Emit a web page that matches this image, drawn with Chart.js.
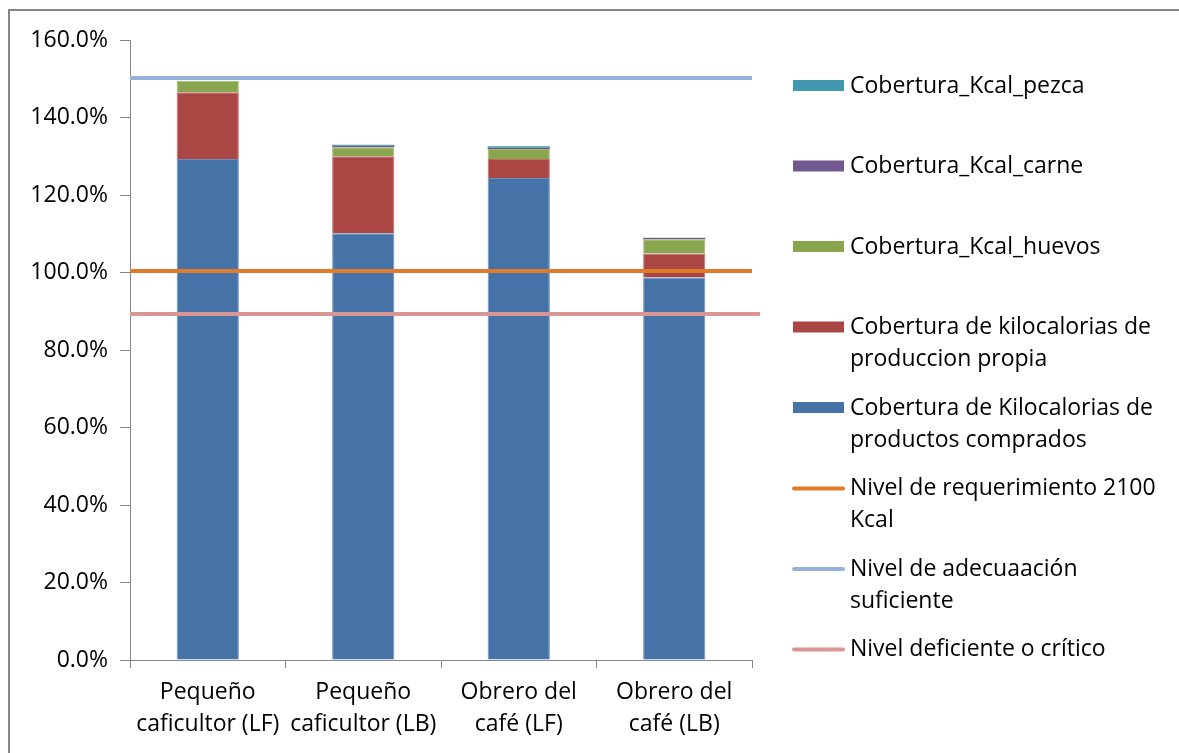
<!DOCTYPE html>
<html>
<head>
<meta charset="utf-8">
<script src="https://cdn.jsdelivr.net/npm/chart.js@4.4.0/dist/chart.umd.min.js"></script>
<style>
  html, body { margin: 0; padding: 0; background: #fff; overflow: hidden; }
  #wrap { position: relative; width: 1179px; height: 753px; }
  #frame { position: absolute; left: 8px; top: 9px; width: 1200px; height: 800px;
           border-left: 2px solid #868686; border-top: 2px solid #868686; box-sizing: border-box; }
  canvas { position: absolute; left: 0; top: 0; }
</style>
</head>
<body>
<div id="wrap">
  <div id="frame"></div>
  <canvas id="coberturaChart" width="1179" height="753"></canvas>
</div>
<script>
const categories = [
    ['Pequeño', 'caficultor (LF)'],
    ['Pequeño', 'caficultor (LB)'],
    ['Obrero del', 'café (LF)'],
    ['Obrero del', 'café (LB)']
];

// stacked bar series, % coverage
const comprados = [129.3, 110.1, 124.4, 98.7];
const propia    = [17.2, 19.9, 4.9, 6.2];
const huevos    = [3.0, 2.3, 2.6, 3.7];
const carne     = [0.0, 0.4, 0.3, 0.3];
const pezca     = [0.0, 0.3, 0.4, 0.1];

// reference levels
const requerimiento = 100.4;
const adecuacion = 150.2;
const deficiente = 89.3;

const yTicks = [0, 20, 40, 60, 80, 100, 120, 140, 160];

const FONT = '"Open Sans", sans-serif';

function stackBar(label, values, color, edge) {
    return {
        label: label,
        data: values,
        stack: 'kcal',
        grouped: false,
        barPercentage: 0.4,
        categoryPercentage: 1,
        backgroundColor: color,
        borderColor: edge,
        borderWidth: edge ? 1 : 0,
        order: 1
    };
}

function levelLine(label, value, color, xmax) {
    return {
        type: 'line',
        label: label,
        data: [{ x: 0, y: value }, { x: xmax, y: value }],
        xAxisID: 'x2',
        yAxisID: 'y2',
        borderColor: color,
        backgroundColor: color,
        borderWidth: 4,
        pointRadius: 0,
        clip: false,
        order: 0
    };
}

const data = {
    labels: categories,
    datasets: [
        stackBar('Cobertura de Kilocalorias de productos comprados', comprados, '#4572A7', '#6a8fbd'),
        stackBar('Cobertura de kilocalorias de produccion propia', propia, '#AA4643', '#bf6b68'),
        stackBar('Cobertura_Kcal_huevos', huevos, '#89A54E', '#a0b870'),
        stackBar('Cobertura_Kcal_carne', carne, '#71588F', null),
        stackBar('Cobertura_Kcal_pezca', pezca, '#4198AF', null),
        levelLine('Nivel de requerimiento 2100 Kcal', requerimiento, '#E07B2A', 1),
        levelLine('Nivel de adecuaación suficiente', adecuacion, '#94B1D9', 1),
        levelLine('Nivel deficiente o crítico', deficiente, '#D99694', 1.013)
    ]
};

// legend drawn on the right, in the same order as the original
const legendOrder = [4, 3, 2, 1, 0, 5, 6, 7];

const sideLegend = {
    id: 'sideLegend',
    afterDraw(chart) {
        const ctx = chart.ctx;
        ctx.save();
        ctx.font = '23px ' + FONT;
        ctx.textBaseline = 'middle';
        let y = 86;
        legendOrder.forEach(i => {
            const ds = chart.data.datasets[i];
            // wrap words to the legend width
            const words = ds.label.split(' ');
            const lines = [];
            let cur = '';
            words.forEach(w => {
                const t = cur ? cur + ' ' + w : w;
                if (ctx.measureText(t).width > 326 && cur) { lines.push(cur); cur = w; } else { cur = t; }
            });
            lines.push(cur);
            if (ds.type === 'line') {
                ctx.strokeStyle = ds.borderColor;
                ctx.lineWidth = 4;
                ctx.lineCap = 'round';
                ctx.beginPath();
                ctx.moveTo(794, y);
                ctx.lineTo(843, y);
                ctx.stroke();
            } else {
                ctx.fillStyle = ds.backgroundColor;
                ctx.fillRect(793, y - 6, 51, 11);
            }
            ctx.fillStyle = '#000';
            lines.forEach((l, k) => ctx.fillText(l, 850, y + k * 32));
            y += 80.5;
        });
        ctx.restore();
    }
};

const config = {
    type: 'bar',
    data: data,
    options: {
        responsive: false,
        animation: false,
        layout: { padding: { left: 10, right: 427, top: 40, bottom: 0 } },
        plugins: {
            legend: { display: false },
            tooltip: { enabled: false }
        },
        scales: {
            x: {
                stacked: true,
                border: { color: '#868686', width: 1 },
                grid: { offset: true, drawOnChartArea: false, drawTicks: true, tickLength: 8, color: '#868686' },
                ticks: {
                    color: '#000',
                    font: { family: FONT, size: 23, lineHeight: 1.39 },
                    padding: 8,
                    maxRotation: 0,
                    autoSkip: false
                },
                afterFit(scale) { scale.height = 93; }
            },
            x2: {
                type: 'linear',
                display: false,
                offset: false,
                min: 0,
                max: 1
            },
            y: {
                stacked: true,
                min: 0,
                max: 160,
                border: { color: '#868686', width: 1 },
                grid: { drawOnChartArea: false, drawTicks: true, tickLength: 10, color: '#868686' },
                afterBuildTicks(scale) { scale.ticks = yTicks.map(v => ({ value: v })); },
                ticks: {
                    color: '#000',
                    font: { family: FONT, size: 23 },
                    padding: 12,
                    callback: v => v.toFixed(1) + '%'
                },
                afterFit(scale) { scale.width = 120; }
            },
            y2: {
                type: 'linear',
                display: false,
                stacked: false,
                min: 0,
                max: 160
            }
        }
    },
    plugins: [sideLegend]
};

const coberturaChart = new Chart(
    document.getElementById('coberturaChart'),
    config
);
</script>
</body>
</html>
